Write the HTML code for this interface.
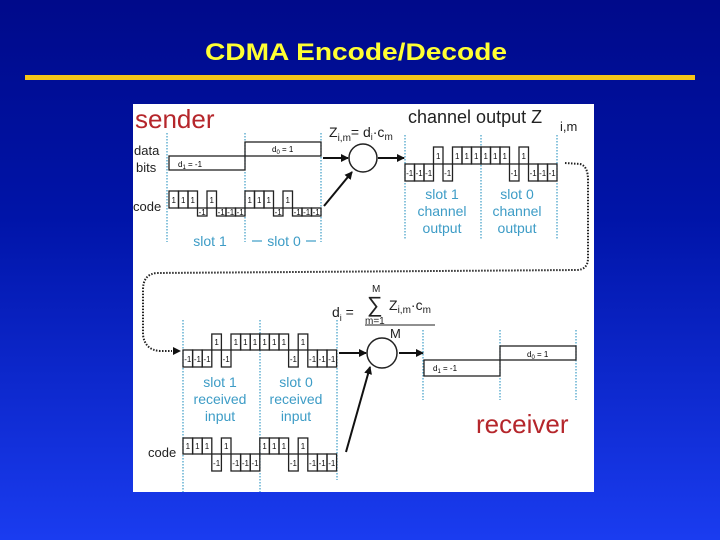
<!DOCTYPE html>
<html><head><meta charset="utf-8"><style>
html,body{margin:0;padding:0;width:720px;height:540px;overflow:hidden}
body{background:linear-gradient(to bottom,#000a8a 0%,#0014a8 40%,#1a3cf0 100%)}
svg{position:absolute;left:0;top:0}
text{font-family:"Liberation Sans",sans-serif}
.c{font-size:8px;fill:#111;text-anchor:middle}
.s{font-size:14px;fill:#3d9cc6;text-anchor:middle}
.b{fill:none;stroke:#222;stroke-width:1.3}
.v{stroke:#3d9cc6;stroke-width:1.2;stroke-dasharray:1.5 1.5}
.d{fill:none;stroke:#222;stroke-width:2;stroke-dasharray:1.5 1.5}
</style></head><body>
<svg width="720" height="540" viewBox="0 0 720 540">
<defs><marker id="a" markerWidth="8" markerHeight="8" refX="7" refY="4" orient="auto" markerUnits="userSpaceOnUse"><path d="M0,0 L8,4 L0,8 z" fill="#111"/></marker></defs>
<text x="205" y="60" font-size="24" font-weight="bold" fill="#ffff33" textLength="302" lengthAdjust="spacingAndGlyphs">CDMA Encode/Decode</text>
<rect x="25" y="75" width="670" height="5" fill="#f5c518"/>
<rect x="133" y="104" width="461" height="388" fill="#fff"/>

<!-- sender -->
<text x="135" y="128" font-size="26" fill="#b5262b">sender</text>
<text x="134" y="155" font-size="13" fill="#222">data</text>
<text x="136" y="172" font-size="13" fill="#222">bits</text>
<text x="133" y="211" font-size="13" fill="#222">code</text>
<line class="v" x1="167" y1="133" x2="167" y2="242"/><line class="v" x1="245" y1="133" x2="245" y2="242"/><line class="v" x1="321" y1="133" x2="321" y2="242"/>
<rect class="b" x="169" y="156" width="76" height="14"/><rect class="b" x="245" y="142" width="76" height="14"/>
<text x="178" y="167" font-size="8">d<tspan font-size="6" dy="2">1</tspan><tspan dy="-2"> = -1</tspan></text>
<text x="272" y="152" font-size="8">d<tspan font-size="6" dy="2">0</tspan><tspan dy="-2"> = 1</tspan></text>
<g class="b">
<rect x="169" y="191" width="9.5" height="17"/><rect x="178.5" y="191" width="9.5" height="17"/><rect x="188" y="191" width="9.5" height="17"/><rect x="197.5" y="208" width="9.5" height="8"/><rect x="207" y="191" width="9.5" height="17"/><rect x="216.5" y="208" width="9.5" height="8"/><rect x="226" y="208" width="9.5" height="8"/><rect x="235.5" y="208" width="9.5" height="8"/>
<rect x="245" y="191" width="9.5" height="17"/><rect x="254.5" y="191" width="9.5" height="17"/><rect x="264" y="191" width="9.5" height="17"/><rect x="273.5" y="208" width="9.5" height="8"/><rect x="283" y="191" width="9.5" height="17"/><rect x="292.5" y="208" width="9.5" height="8"/><rect x="302" y="208" width="9.5" height="8"/><rect x="311.5" y="208" width="9.5" height="8"/>
</g>
<g class="c">
<text x="173.7" y="203">1</text><text x="183.2" y="203">1</text><text x="192.7" y="203">1</text><text x="202.2" y="215">-1</text><text x="211.7" y="203">1</text><text x="221.2" y="215">-1</text><text x="230.7" y="215">-1</text><text x="240.2" y="215">-1</text>
<text x="249.7" y="203">1</text><text x="259.2" y="203">1</text><text x="268.7" y="203">1</text><text x="278.2" y="215">-1</text><text x="287.7" y="203">1</text><text x="297.2" y="215">-1</text><text x="306.7" y="215">-1</text><text x="316.2" y="215">-1</text>
</g>
<text class="s" x="210" y="246">slot 1</text>
<text class="s" x="284" y="246">slot 0</text>
<line x1="252" y1="241" x2="262" y2="241" stroke="#3d9cc6" stroke-width="1.2"/><line x1="306" y1="241" x2="316" y2="241" stroke="#3d9cc6" stroke-width="1.2"/>

<text x="329" y="137" font-size="14" fill="#222">Z<tspan font-size="10" dy="4">i,m</tspan><tspan dy="-4">= d</tspan><tspan font-size="9" dy="3">i</tspan><tspan dy="-3">·c</tspan><tspan font-size="10" dy="3">m</tspan></text>
<circle cx="363" cy="158" r="14" fill="#fff" stroke="#222" stroke-width="1.5"/>
<line x1="323" y1="158" x2="348" y2="158" stroke="#111" stroke-width="2" marker-end="url(#a)"/>
<line x1="324" y1="206" x2="352" y2="172" stroke="#111" stroke-width="2" marker-end="url(#a)"/>
<line x1="378" y1="158" x2="404" y2="158" stroke="#111" stroke-width="2" marker-end="url(#a)"/>

<!-- channel output -->
<text x="408" y="123" font-size="18" fill="#222">channel output Z</text>
<text x="560" y="131" font-size="13" fill="#222">i,m</text>
<line class="v" x1="405" y1="135" x2="405" y2="240"/><line class="v" x1="481" y1="135" x2="481" y2="240"/><line class="v" x1="557" y1="135" x2="557" y2="240"/>
<g class="b">
<rect x="405" y="164" width="9.5" height="17"/><rect x="414.5" y="164" width="9.5" height="17"/><rect x="424" y="164" width="9.5" height="17"/><rect x="433.5" y="147" width="9.5" height="17"/><rect x="443" y="164" width="9.5" height="17"/><rect x="452.5" y="147" width="9.5" height="17"/><rect x="462" y="147" width="9.5" height="17"/><rect x="471.5" y="147" width="9.5" height="17"/>
<rect x="481" y="147" width="9.5" height="17"/><rect x="490.5" y="147" width="9.5" height="17"/><rect x="500" y="147" width="9.5" height="17"/><rect x="509.5" y="164" width="9.5" height="17"/><rect x="519" y="147" width="9.5" height="17"/><rect x="528.5" y="164" width="9.5" height="17"/><rect x="538" y="164" width="9.5" height="17"/><rect x="547.5" y="164" width="9.5" height="17"/>
</g>
<g class="c">
<text x="409.7" y="176">-1</text><text x="419.2" y="176">-1</text><text x="428.7" y="176">-1</text><text x="438.2" y="159">1</text><text x="447.7" y="176">-1</text><text x="457.2" y="159">1</text><text x="466.7" y="159">1</text><text x="476.2" y="159">1</text>
<text x="485.7" y="159">1</text><text x="495.2" y="159">1</text><text x="504.7" y="159">1</text><text x="514.2" y="176">-1</text><text x="523.7" y="159">1</text><text x="533.2" y="176">-1</text><text x="542.7" y="176">-1</text><text x="552.2" y="176">-1</text>
</g>
<text class="s" x="442" y="199">slot 1</text><text class="s" x="442" y="216">channel</text><text class="s" x="442" y="233">output</text>
<text class="s" x="517" y="199">slot 0</text><text class="s" x="517" y="216">channel</text><text class="s" x="517" y="233">output</text>

<!-- dotted connector -->
<path class="d" d="M565,163 L580,164 Q588,166 588,180 L588,258 Q588,270 576,270 L157,273 Q143,274 143,290 L143,335 Q145,350 160,351 L172,351"/>
<path d="M173,347 L181,351 L173,355 z" fill="#111"/>

<!-- receiver input -->
<line class="v" x1="183" y1="320" x2="183" y2="492"/><line class="v" x1="260" y1="320" x2="260" y2="492"/><line class="v" x1="337" y1="320" x2="337" y2="480"/>
<g class="b">
<rect x="183" y="350" width="9.6" height="17"/><rect x="192.6" y="350" width="9.6" height="17"/><rect x="202.2" y="350" width="9.6" height="17"/><rect x="211.8" y="334" width="9.6" height="16"/><rect x="221.4" y="350" width="9.6" height="17"/><rect x="231" y="334" width="9.6" height="16"/><rect x="240.6" y="334" width="9.6" height="16"/><rect x="250.2" y="334" width="9.6" height="16"/>
<rect x="259.8" y="334" width="9.6" height="16"/><rect x="269.4" y="334" width="9.6" height="16"/><rect x="279" y="334" width="9.6" height="16"/><rect x="288.6" y="350" width="9.6" height="17"/><rect x="298.2" y="334" width="9.6" height="16"/><rect x="307.8" y="350" width="9.6" height="17"/><rect x="317.4" y="350" width="9.6" height="17"/><rect x="327" y="350" width="9.6" height="17"/>
</g>
<g class="c">
<text x="187.8" y="362">-1</text><text x="197.4" y="362">-1</text><text x="207" y="362">-1</text><text x="216.6" y="345">1</text><text x="226.2" y="362">-1</text><text x="235.8" y="345">1</text><text x="245.4" y="345">1</text><text x="255" y="345">1</text>
<text x="264.6" y="345">1</text><text x="274.2" y="345">1</text><text x="283.8" y="345">1</text><text x="293.4" y="362">-1</text><text x="303" y="345">1</text><text x="312.6" y="362">-1</text><text x="322.2" y="362">-1</text><text x="331.8" y="362">-1</text>
</g>
<text class="s" x="220" y="387">slot 1</text><text class="s" x="220" y="404">received</text><text class="s" x="220" y="421">input</text>
<text class="s" x="296" y="387">slot 0</text><text class="s" x="296" y="404">received</text><text class="s" x="296" y="421">input</text>

<text x="148" y="457" font-size="13" fill="#222">code</text>
<g class="b">
<rect x="183" y="438" width="9.6" height="16"/><rect x="192.6" y="438" width="9.6" height="16"/><rect x="202.2" y="438" width="9.6" height="16"/><rect x="211.8" y="454" width="9.6" height="17"/><rect x="221.4" y="438" width="9.6" height="16"/><rect x="231" y="454" width="9.6" height="17"/><rect x="240.6" y="454" width="9.6" height="17"/><rect x="250.2" y="454" width="9.6" height="17"/>
<rect x="259.8" y="438" width="9.6" height="16"/><rect x="269.4" y="438" width="9.6" height="16"/><rect x="279" y="438" width="9.6" height="16"/><rect x="288.6" y="454" width="9.6" height="17"/><rect x="298.2" y="438" width="9.6" height="16"/><rect x="307.8" y="454" width="9.6" height="17"/><rect x="317.4" y="454" width="9.6" height="17"/><rect x="327" y="454" width="9.6" height="17"/>
</g>
<g class="c">
<text x="187.8" y="449">1</text><text x="197.4" y="449">1</text><text x="207" y="449">1</text><text x="216.6" y="466">-1</text><text x="226.2" y="449">1</text><text x="235.8" y="466">-1</text><text x="245.4" y="466">-1</text><text x="255" y="466">-1</text>
<text x="264.6" y="449">1</text><text x="274.2" y="449">1</text><text x="283.8" y="449">1</text><text x="293.4" y="466">-1</text><text x="303" y="449">1</text><text x="312.6" y="466">-1</text><text x="322.2" y="466">-1</text><text x="331.8" y="466">-1</text>
</g>

<!-- decoder -->
<text x="332" y="317" font-size="14" fill="#222">d<tspan font-size="9" dy="4">i</tspan><tspan dy="-4"> =</tspan></text>
<text x="367" y="312" font-size="22" fill="#222">∑</text>
<text x="372" y="292" font-size="10" fill="#222">M</text>
<text x="365" y="324" font-size="10" fill="#222">m=1</text>
<text x="389" y="310" font-size="14" fill="#222">Z<tspan font-size="10" dy="3">i,m</tspan><tspan dy="-3">·c</tspan><tspan font-size="10" dy="3">m</tspan></text>
<line x1="365" y1="325" x2="435" y2="325" stroke="#222" stroke-width="1"/>
<text x="390" y="338" font-size="13" fill="#222">M</text>
<circle cx="382" cy="353" r="15" fill="#fff" stroke="#222" stroke-width="1.5"/>
<line x1="339" y1="353" x2="366" y2="353" stroke="#111" stroke-width="2" marker-end="url(#a)"/>
<line x1="346" y1="452" x2="370" y2="367" stroke="#111" stroke-width="2" marker-end="url(#a)"/>
<line x1="399" y1="353" x2="423" y2="353" stroke="#111" stroke-width="2" marker-end="url(#a)"/>
<line class="v" x1="423" y1="330" x2="423" y2="400"/><line class="v" x1="500" y1="330" x2="500" y2="400"/><line class="v" x1="576" y1="330" x2="576" y2="400"/>
<rect class="b" x="424" y="360" width="76" height="16"/><rect class="b" x="500" y="346" width="76" height="14"/>
<text x="433" y="371" font-size="8">d<tspan font-size="6" dy="2">1</tspan><tspan dy="-2"> = -1</tspan></text>
<text x="527" y="357" font-size="8">d<tspan font-size="6" dy="2">0</tspan><tspan dy="-2"> = 1</tspan></text>
<text x="476" y="433" font-size="26" fill="#b5262b">receiver</text>
</svg>
</body></html>
